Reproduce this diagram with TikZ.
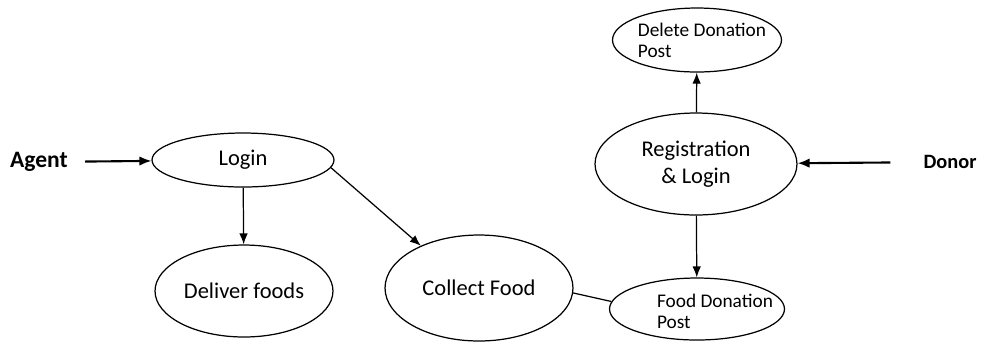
\documentclass[tikz,border=0pt]{standalone}
\usepackage{fontspec}
\setmainfont{Carlito}
\usetikzlibrary{shapes.geometric,arrows.meta}

\begin{document}
\begin{tikzpicture}[x=0.02cm,y=-0.02cm,
  usecase/.style={draw,ellipse,inner sep=0pt,line width=0.7pt,
    font=\fontsize{12.8}{15}\selectfont,align=center},
  smallcase/.style={usecase,font=\fontsize{11}{12}\selectfont,align=left},
  actor/.style={font=\bfseries},
  flow/.style={-{Latex[length=2.2mm,width=1.7mm]},line width=0.7pt},
  feed/.style={-{Latex[length=2.4mm,width=1.9mm]},line width=1.2pt}]
  \useasboundingbox (0,0) rectangle (990,343);
  % --- agent side: pixel coords, y grows downward ---
  \node[actor,font=\fontsize{13.4}{15}\selectfont\bfseries] (agent) at (39,162) {Agent};
  \node[usecase,minimum width=3.64cm,minimum height=1.08cm] (login) at (243,160) {Login};
  \node[usecase,minimum width=3.56cm,minimum height=1.84cm] (deliver) at (244,291) {Deliver foods};
  \node[usecase,minimum width=3.76cm,minimum height=2.12cm] (collect) at (479,288) {Collect Food};
  % --- donor side ---
  \node[actor,font=\fontsize{11.6}{15}\selectfont\bfseries] (donor) at (950,162) {Donor};
  \node[usecase,minimum width=4.04cm,minimum height=2.04cm] (reg) at (696,164) {Registration\\ \& Login};
  \node[smallcase,minimum width=3.38cm,minimum height=1.28cm] (delete) at (697,40) {};
  \node[smallcase,minimum width=3.5cm,minimum height=1.24cm] (fdp) at (697,309) {};
  % texts sit right of the ellipse centres
  \node[font=\fontsize{11}{12}\selectfont,align=left] (deltext) at (702,40) {Delete Donation\\Post};
  \node[font=\fontsize{11}{12}\selectfont,align=left] (fdptext) at (715,311) {Food Donation\\Post};
  % --- connectors ---
  \draw[feed,shorten <=0.22cm] (agent) -- (login);
  \draw[feed,shorten <=0.54cm] (donor) -- (reg);
  \draw[flow] (login) -- (deliver);
  \draw[flow] (login.-5) -- (collect.144);
  \draw[flow] (reg) -- (delete);
  \draw[flow] (reg) -- (fdp);
  \draw[line width=0.7pt] (collect.-3) -- (fdp.175);
\end{tikzpicture}
\end{document}
